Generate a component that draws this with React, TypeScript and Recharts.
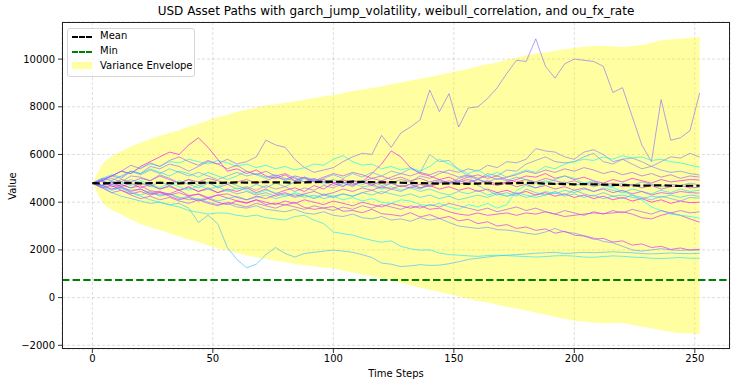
import { ComposedChart, Line, Area, XAxis, YAxis, CartesianGrid, ReferenceLine } from "recharts"

const steps = [
  0, 4, 8, 12, 16, 20, 24, 28, 32, 36, 40, 44, 48, 52, 56, 60,
  64, 68, 72, 76, 80, 84, 88, 92, 96, 100, 104, 108, 112, 116, 120, 124,
  128, 132, 136, 140, 144, 148, 152, 156, 160, 164, 168, 172, 176, 180, 184, 188,
  192, 196, 200, 204, 208, 212, 216, 220, 224, 228, 232, 236, 240, 244, 248, 252,
]

const meanLine = [
  4800, 4790, 4800, 4810, 4800, 4790, 4800, 4810, 4800, 4790, 4800, 4810, 4820, 4810, 4820, 4830,
  4820, 4830, 4840, 4830, 4830, 4820, 4830, 4840, 4850, 4860, 4850, 4860, 4850, 4840, 4830, 4840,
  4820, 4810, 4800, 4790, 4780, 4790, 4780, 4770, 4780, 4790, 4780, 4790, 4800, 4810, 4800, 4780,
  4770, 4760, 4750, 4760, 4750, 4740, 4730, 4720, 4700, 4690, 4700, 4710, 4690, 4680, 4690, 4690,
]

const envUpper = [
  4800, 5590, 5930, 6140, 6330, 6490, 6650, 6790, 6900, 7020, 7160, 7290, 7440, 7560, 7670, 7790,
  7880, 7970, 8060, 8110, 8170, 8230, 8300, 8370, 8440, 8490, 8570, 8660, 8730, 8790, 8850, 8940,
  9020, 9100, 9180, 9250, 9330, 9430, 9510, 9590, 9700, 9790, 9860, 9970, 10060, 10160, 10230, 10280,
  10350, 10410, 10470, 10520, 10550, 10560, 10530, 10510, 10550, 10590, 10690, 10790, 10820, 10850, 10890, 10930,
]

const envLower = [
  4800, 3990, 3670, 3480, 3270, 3090, 2950, 2830, 2700, 2560, 2440, 2330, 2200, 2060, 1970, 1870,
  1760, 1690, 1620, 1550, 1490, 1410, 1360, 1310, 1260, 1230, 1130, 1060, 970, 890, 810, 740,
  620, 520, 420, 330, 230, 150, 50, -50, -140, -210, -300, -390, -460, -540, -630, -720,
  -810, -890, -970, -1000, -1050, -1080, -1070, -1070, -1150, -1210, -1290, -1370, -1440, -1490, -1510, -1530,
]

const minValue = 740

const path01 = [
  4800, 4900, 5100, 5000, 5300, 5200, 5500, 5400, 5600, 5500, 5300, 5500, 5700, 5600, 5800, 5600,
  5700, 5900, 6600, 6400, 6300, 5800, 5450, 5250, 5350, 5450, 5700, 5900, 6050, 6000, 6800, 6300,
  6900, 7150, 7450, 8700, 7800, 8550, 7150, 7950, 8000, 8350, 8800, 9400, 9950, 9900, 10850, 9700,
  9200, 9800, 10000, 9950, 9900, 9700, 8600, 8800, 7600, 6400, 5700, 8300, 6600, 6700, 7000, 8580,
]
const path02 = [
  4800, 4650, 4400, 4250, 4150, 4050, 3950, 4000, 3900, 3950, 3750, 3150, 3450, 3100, 2100, 1600,
  1250, 1400, 1800, 2100, 1850, 1700, 1850, 1900, 1950, 1990, 1950, 1900, 1800, 1680, 1450, 1400,
  1300, 1330, 1380, 1350, 1360, 1420, 1500, 1600, 1650, 1700, 1750, 1780, 1800, 1830, 1860, 1880,
  1900, 1850, 1870, 1900, 1880, 1900, 1920, 1900, 1880, 1850, 1830, 1850, 1870, 1850, 1840, 1860,
]
const path03 = [
  4800, 4700, 4550, 4600, 4400, 4250, 4100, 4000, 3880, 3800, 3650, 3580, 3500, 3550, 3540, 3450,
  3400, 3460, 3350, 3300, 3250, 3400, 3450, 3250, 3100, 2750, 2680, 2620, 2500, 2400, 2320, 2380,
  2150, 2050, 1990, 2000, 1870, 1800, 1780, 1750, 1730, 1760, 1780, 1760, 1740, 1720, 1700, 1720,
  1750, 1760, 1740, 1700, 1690, 1720, 1750, 1730, 1700, 1680, 1650, 1640, 1660, 1680, 1650, 1650,
]
const path04 = [
  4800, 4700, 4750, 4600, 4500, 4550, 4400, 4300, 4350, 4200, 4100, 4150, 4000, 3900, 3950, 3800,
  3750, 3850, 3700, 3650, 3600, 3700, 3550, 3500, 3600, 3450, 3400, 3500, 3350, 3300, 3400, 3250,
  3300, 3200, 3350, 3250, 3320, 3150, 3000, 2950, 2900, 2950, 2850, 2830, 2780, 2700, 2650, 2750,
  2900, 2750, 2700, 2600, 2500, 2350, 2300, 2150, 2000, 1950, 2000, 2050, 2000, 1980, 2000, 1990,
]
const path05 = [
  4800, 4880, 4650, 4720, 4600, 4690, 4480, 4420, 4350, 4510, 4280, 4330, 4150, 4300, 4180, 4060,
  3980, 4100, 3900, 3960, 3880, 3990, 3780, 3700, 3760, 3820, 3620, 3650, 3560, 3700, 3520, 3480,
  3420, 3560, 3380, 3480, 3320, 3400, 3220, 3280, 3100, 3180, 3000, 3060, 2900, 2960, 2820, 2880,
  2700, 2780, 2620, 2580, 2450, 2480, 2330, 2380, 2200, 2250, 2100, 2150, 2020, 2080, 1990, 2030,
]
const path06 = [
  4800, 4900, 5000, 4850, 5100, 5050, 4900, 5150, 5000, 4800, 4950, 4700, 4850, 4600, 4750, 4550,
  4650, 4500, 4700, 4550, 4650, 4450, 4600, 4500, 4700, 4600, 4800, 4650, 4900, 4750, 4600, 4800,
  4950, 4850, 5100, 5000, 5200, 5350, 5250, 5400, 5300, 5550, 5450, 5700, 5650, 5800, 6250, 6150,
  6100, 5900, 5800, 6100, 6200, 6000, 5700, 5800, 5600, 5400, 5500, 5700, 5900, 5850, 6050, 5890,
]
const path07 = [
  4800, 4700, 4850, 4750, 4600, 4800, 4700, 4550, 4650, 4500, 4600, 4450, 4550, 4400, 4500, 4350,
  4450, 4300, 4400, 4250, 4350, 4200, 4300, 4150, 4300, 4200, 4350, 4250, 4400, 4500, 4350, 4550,
  4450, 4650, 4550, 4750, 4900, 4800, 5000, 5100, 4950, 5200, 5100, 5350, 5300, 5600, 5750, 5900,
  5700, 5650, 5700, 5900, 6050, 5700, 5600, 5800, 5850, 5700, 5500, 5350, 5250, 5300, 5200, 5140,
]
const path08 = [
  4800, 4950, 5100, 5300, 5200, 5450, 5600, 5500, 5700, 5650, 5800, 5700, 5600, 5750, 5650, 5500,
  5600, 5450, 5550, 5400, 5500, 5350, 5450, 5600, 5550, 5800, 5950, 5700, 5550, 5600, 5400, 5500,
  5350, 5450, 5300, 5500, 5800, 5600, 5400, 5200, 5350, 5100, 5250, 5050, 5200, 5350, 5250, 5500,
  5400, 5600, 5700, 5800, 5750, 5900, 5800, 5950, 5850, 5900, 5750, 5800, 5700, 5650, 5550, 5470,
]
const path09 = [
  4800, 5000, 5150, 5050, 5300, 5200, 5400, 5250, 5100, 5300, 5200, 5050, 5250, 5100, 4950, 5100,
  5300, 5150, 5000, 5100, 4900, 5050, 4850, 4950, 4750, 4850, 4700, 4800, 4650, 4700, 4550, 4650,
  4500, 4600, 4450, 4550, 4400, 4300, 4450, 4350, 4500, 4300, 4400, 4250, 4350, 4200, 4300, 4450,
  4350, 4500, 4400, 4550, 4450, 4600, 4500, 4400, 4550, 4450, 4350, 4500, 4400, 4550, 4450, 4500,
]
const path10 = [
  4800, 4950, 5100, 5300, 5200, 5500, 5700, 5900, 6100, 6000, 6400, 6700, 6300, 5800, 5300, 5400,
  5200, 5350, 5100, 5000, 5150, 4900, 5050, 4850, 4950, 4800, 4950, 4750, 4850, 4700, 4900, 4800,
  4650, 4750, 4600, 4700, 4550, 4650, 4500, 4600, 4450, 4550, 4400, 4500, 4350, 4450, 4300, 4400,
  4250, 4350, 4200, 4300, 4150, 4250, 4100, 4200, 4050, 4150, 4000, 4100, 3950, 4050, 3980, 4000,
]
const path11 = [
  4800, 4700, 4850, 4650, 4800, 4600, 4750, 4550, 4700, 4500, 4650, 4450, 4600, 4400, 4550, 4450,
  4600, 4400, 4550, 4350, 4500, 4600, 4450, 4700, 4550, 4800, 4650, 4900, 4850, 5200, 5600, 6150,
  5900, 5450, 5200, 5100, 4950, 5050, 4850, 4950, 4800, 4900, 4750, 4850, 4950, 5100, 5050, 5200,
  5000, 5100, 4950, 5050, 4900, 4800, 4950, 4850, 5000, 4900, 4800, 4950, 4850, 4900, 4950, 4930,
]
const path12 = [
  4800, 4600, 4700, 4500, 4350, 4450, 4300, 4400, 4250, 4100, 4200, 4050, 4150, 4000, 3900, 4050,
  3950, 4100, 4000, 3900, 4050, 3950, 4100, 4000, 3900, 4050, 3950, 3850, 4000, 3900, 3800, 3950,
  3850, 3750, 3850, 3700, 3750, 3600, 3500, 3450, 3550, 3450, 3500, 3550, 3450, 3550, 3500, 3600,
  3500, 3400, 3450, 3500, 3550, 3520, 3550, 3600, 3500, 3350, 3300, 3450, 3550, 3450, 3300, 3160,
]
const path13 = [
  4800, 4900, 4750, 4850, 4700, 4900, 4750, 4600, 4800, 4650, 4500, 4700, 4550, 4650, 4450, 4600,
  4500, 4350, 4500, 4400, 4250, 4400, 4300, 4200, 4350, 4250, 4100, 4200, 4050, 4150, 4000, 3950,
  4100, 4050, 3900, 3850, 3950, 3800, 3700, 3900, 3800, 3950, 3750, 3900, 4500, 4700, 4600, 4800,
  4950, 5100, 5000, 4800, 4900, 4700, 4600, 4450, 4300, 4100, 3800, 3650, 3500, 3450, 3400, 3330,
]
const path14 = [
  4800, 4650, 4500, 4600, 4400, 4300, 4450, 4250, 4350, 4150, 4250, 4100, 4200, 4050, 4150, 4250,
  4100, 4200, 4300, 4150, 4250, 4350, 4200, 4300, 4150, 4250, 4350, 4250, 4400, 4300, 4450, 4350,
  4250, 4350, 4200, 4300, 4150, 4250, 4100, 4200, 4300, 4200, 4350, 4250, 4400, 4300, 4200, 4300,
  4400, 4250, 4350, 4200, 4300, 4150, 4250, 4300, 4200, 4150, 4250, 4200, 4300, 4200, 4300, 4250,
]
const path15 = [
  4800, 4900, 4750, 4950, 4850, 5000, 4900, 5100, 4950, 4800, 4950, 4850, 5000, 4900, 4750, 4850,
  4950, 4800, 4900, 5050, 4950, 5100, 5000, 4900, 5050, 5200, 5100, 5250, 5150, 5000, 5100, 4950,
  5050, 4900, 5000, 4850, 4950, 4800, 4900, 5050, 5150, 5000, 5100, 4950, 4850, 4950, 4850, 5000,
  4900, 4800, 4900, 4750, 4850, 4700, 4800, 4650, 4750, 4600, 4700, 4550, 4650, 4700, 4600, 4630,
]
const path16 = [
  4800, 4700, 4550, 4650, 4450, 4550, 4350, 4450, 4300, 4400, 4250, 4350, 4200, 4300, 4350, 4200,
  4100, 4250, 4150, 4300, 4400, 4250, 4350, 4450, 4300, 4400, 4550, 4450, 4600, 4500, 4650, 4550,
  4700, 4600, 4750, 4650, 4800, 4900, 4750, 4850, 4950, 4800, 4700, 4800, 4650, 4750, 4600, 4700,
  4550, 4650, 4500, 4600, 4450, 4550, 4400, 4500, 4350, 4450, 4300, 4400, 4350, 4450, 4400, 4380,
]
const path17 = [
  4800, 5000, 4900, 5100, 5300, 5150, 5350, 5200, 5400, 5250, 5100, 5250, 5100, 4950, 5100, 5250,
  5100, 5200, 5050, 5150, 5000, 4900, 5050, 4950, 4850, 4950, 4800, 4900, 4750, 4850, 4700, 4800,
  4650, 4750, 4600, 4700, 4850, 4750, 4900, 4800, 4950, 4850, 5000, 4900, 5050, 4950, 4800, 4900,
  4750, 4850, 4700, 4800, 4650, 4750, 4650, 4800, 4700, 4850, 4750, 4650, 4750, 4700, 4800, 4720,
]
const path18 = [
  4800, 4700, 4900, 4750, 4950, 4800, 4650, 4850, 4700, 4900, 4750, 4600, 4800, 4650, 4850, 4700,
  4550, 4750, 4600, 4800, 4650, 4850, 5000, 4850, 5000, 5150, 5000, 5200, 5050, 5250, 5100, 5300,
  5200, 5400, 5250, 6000, 5700, 5750, 5350, 5100, 4700, 4500, 4300, 4400, 4250, 4550, 4400, 4300,
  4450, 4300, 4500, 4350, 4250, 4400, 4250, 4150, 4300, 4200, 4100, 4250, 4150, 4050, 4200, 4170,
]
const path19 = [
  4800, 4600, 4400, 4500, 4300, 4150, 4250, 4100, 4200, 4050, 3950, 4100, 3950, 3850, 4000, 3900,
  3800, 3950, 3850, 3750, 3900, 3800, 3700, 3850, 3750, 3650, 3800, 3700, 3850, 3750, 3900, 3800,
  3700, 3850, 3750, 3900, 3800, 3950, 3850, 3750, 3650, 3750, 3600, 3700, 3800, 3650, 3750, 3600,
  3500, 3650, 3550, 3450, 3600, 3500, 3650, 3550, 3700, 3600, 3500, 3650, 3550, 3650, 3550, 3600,
]
const path20 = [
  4800, 4900, 5100, 5300, 5550, 5400, 5650, 5500, 5750, 5900, 5700, 5550, 5750, 5600, 5400, 5550,
  5300, 5150, 5300, 5100, 5200, 5000, 4850, 5000, 4850, 4700, 4850, 4700, 4850, 5000, 4900, 5050,
  5200, 5100, 5250, 5150, 5300, 5200, 5050, 5150, 5000, 5100, 4950, 5050, 5150, 5300, 5200, 5350,
  5250, 5400, 5300, 5450, 5350, 5200, 5300, 5150, 5250, 5100, 5200, 5050, 5150, 5000, 5100, 5050,
]

const paths = [
  path01, path02, path03, path04, path05, path06, path07, path08, path09, path10,
  path11, path12, path13, path14, path15, path16, path17, path18, path19, path20,
]

// cool colormap shades, one per path
const pathColors = [
  "#946bff", "#43bcff", "#1be4ff", "#6b94ff", "#d728ff", "#8679ff", "#7986ff", "#0df2ff", "#28d7ff", "#ff00ff",
  "#f20dff", "#e41bff", "#00ffff", "#36c9ff", "#bc43ff", "#c936ff", "#5ea1ff", "#51aeff", "#ae51ff", "#a15eff",
]

const xTicks = [0, 50, 100, 150, 200, 250]
const yTicks = [-2000, 0, 2000, 4000, 6000, 8000, 10000]

const rows = steps.map((t, i) => {
  const row: Record<string, any> = { t, mean: meanLine[i], env: [envLower[i], envUpper[i]] }
  paths.forEach((p, j) => {
    row[`p${j}`] = p[i]
  })
  return row
})

const font = "'DejaVu Sans', sans-serif"
const tickStyle = { fontSize: 10, fill: "#000", fontFamily: font }

export default function App() {
  return (
    <div style={{ position: "absolute", left: 0, top: 0, width: 738, height: 387, background: "#fff", fontFamily: font }}>
      <div style={{ position: "absolute", left: 0, width: 792, top: 4, textAlign: "center", fontSize: 12, color: "#000" }}>
        USD Asset Paths with garch_jump_volatility, weibull_correlation, and ou_fx_rate
      </div>
      <ComposedChart width={738} height={387} data={rows} margin={{ top: 22, right: 8, bottom: 0, left: 0 }}>
        <CartesianGrid stroke="#b0b0b0" strokeOpacity={0.7} strokeDasharray="3 2" strokeWidth={0.6} />
        <XAxis
          dataKey="t"
          type="number"
          domain={[-12.6, 264.6]}
          ticks={xTicks}
          allowDataOverflow
          height={38}
          axisLine={false}
          tickLine={{ stroke: "#000", strokeWidth: 0.8 }}
          tickSize={4}
          tickMargin={2}
          tick={tickStyle}
        />
        <YAxis
          type="number"
          domain={[-2155, 11555]}
          ticks={yTicks}
          allowDataOverflow
          width={62}
          axisLine={false}
          tickLine={{ stroke: "#000", strokeWidth: 0.8 }}
          tickSize={4}
          tickMargin={3}
          tick={tickStyle}
          tickFormatter={(v: number) => String(v).replace("-", "\u2212")}
        />
        <Area
          dataKey="env"
          type="linear"
          stroke="none"
          fill="#ffff00"
          fillOpacity={0.37}
          isAnimationActive={false}
        />
        {paths.map((_, j) => (
          <Line
            key={j}
            dataKey={`p${j}`}
            type="linear"
            stroke={pathColors[j]}
            strokeOpacity={0.65}
            strokeWidth={1}
            dot={false}
            isAnimationActive={false}
          />
        ))}
        <Line
          dataKey="mean"
          type="linear"
          stroke="#000"
          strokeWidth={2.2}
          strokeDasharray="7.4 3.2"
          dot={false}
          isAnimationActive={false}
        />
        <ReferenceLine y={minValue} stroke="#008000" strokeWidth={2} strokeDasharray="7.4 3.2" />
      </ComposedChart>
      <div
        style={{
          position: "absolute", left: 62, top: 22, width: 668, height: 327,
          border: "1px solid #222", boxSizing: "border-box", pointerEvents: "none",
        }}
      />
      <div
        style={{
          position: "absolute", left: 67, top: 28, width: 128, height: 49, boxSizing: "border-box",
          border: "1px solid #d6d6d6", borderRadius: 3, background: "rgba(255,255,255,0.8)", fontSize: 10, color: "#000",
        }}
      >
        <div style={{ position: "absolute", left: 4, top: 7, width: 20, borderTop: "2px dashed #000" }} />
        <div style={{ position: "absolute", left: 32, top: 1 }}>Mean</div>
        <div style={{ position: "absolute", left: 4, top: 22, width: 20, borderTop: "2px dashed #008000" }} />
        <div style={{ position: "absolute", left: 32, top: 16 }}>Min</div>
        <div style={{ position: "absolute", left: 4, top: 33, width: 20, height: 7, background: "#ffffa1" }} />
        <div style={{ position: "absolute", left: 32, top: 31 }}>Variance Envelope</div>
      </div>
      <div style={{ position: "absolute", left: 62, width: 668, top: 368, textAlign: "center", fontSize: 10 }}>Time Steps</div>
      <div
        style={{
          position: "absolute", left: 12, top: 186, fontSize: 10,
          transform: "translate(-50%, -50%) rotate(-90deg)", whiteSpace: "nowrap",
        }}
      >
        Value
      </div>
    </div>
  )
}
